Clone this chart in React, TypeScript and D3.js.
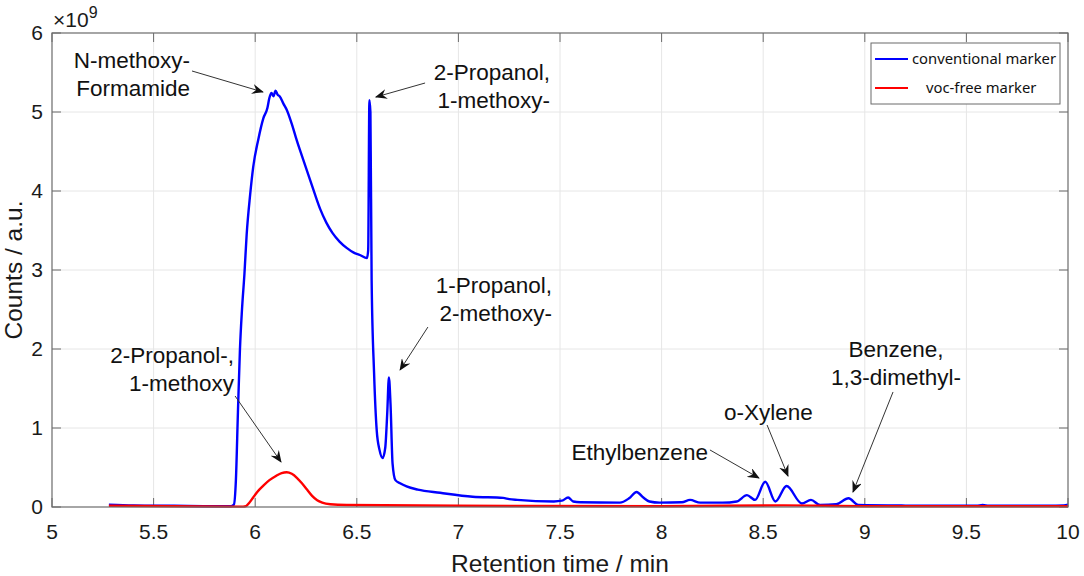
import React, { useRef, useEffect } from "react";
import * as d3 from "d3";

// retention time (min) and counts (x1e9)
const blueTime = [
  5.28, 5.4, 5.6, 5.8, 5.88, 5.895, 5.905, 5.915, 5.925, 5.935, 5.947, 5.958, 5.975, 5.99, 6.015,
  6.04, 6.06, 6.07, 6.08, 6.09, 6.1, 6.11, 6.12, 6.14, 6.155, 6.18, 6.2, 6.22, 6.245, 6.27, 6.295,
  6.32, 6.35, 6.38, 6.415, 6.45, 6.485, 6.515, 6.55, 6.556, 6.562, 6.567, 6.573, 6.585, 6.598,
  6.612, 6.627, 6.64, 6.65, 6.658, 6.666, 6.676, 6.69, 6.713, 6.745, 6.8, 6.91, 7.07, 7.22, 7.25,
  7.29, 7.47, 7.51, 7.54, 7.565, 7.6, 7.795, 7.84, 7.877, 7.91, 7.94, 7.99, 8.1, 8.14, 8.19, 8.3,
  8.37, 8.42, 8.46, 8.51, 8.56, 8.615, 8.69, 8.735, 8.78, 8.86, 8.92, 8.968, 9.2, 9.55, 9.58, 9.61,
  9.9, 9.98, 10,
];
const blueCounts = [
  0.03, 0.02, 0.015, 0.01, 0.01, 0.03, 0.34, 1.2, 2.0, 2.5, 2.95, 3.45, 3.95, 4.3, 4.65,
  4.92, 5.05, 5.18, 5.24, 5.2, 5.27, 5.22, 5.2, 5.1, 5.03, 4.85, 4.68, 4.52, 4.33, 4.14, 3.95,
  3.77, 3.6, 3.47, 3.36, 3.28, 3.22, 3.19, 3.15, 3.25, 5.15, 5.0, 2.87, 1.7, 0.97,
  0.72, 0.62, 0.75, 1.2, 1.64, 1.3, 0.55, 0.34, 0.3, 0.26, 0.22, 0.18, 0.13, 0.115, 0.1,
  0.09, 0.07, 0.08, 0.12, 0.07, 0.06, 0.055, 0.11, 0.19, 0.12, 0.07, 0.055, 0.06, 0.09, 0.055, 0.055,
  0.07, 0.15, 0.09, 0.32, 0.07, 0.265, 0.045, 0.09, 0.025, 0.035, 0.11, 0.025, 0.018, 0.015, 0.025, 0.015,
  0.015, 0.02, 0.03,
];

const redTime = [
  5.28, 5.6, 5.94, 5.955, 5.97, 5.99, 6.01, 6.04, 6.07, 6.1, 6.13, 6.155, 6.18, 6.205, 6.23,
  6.255, 6.28, 6.305, 6.33, 6.37, 6.45, 7.0, 8.0, 8.6, 9.0, 10,
];
const redCounts = [
  0.015, 0.01, 0.005, 0.012, 0.05, 0.12, 0.19, 0.27, 0.34, 0.39, 0.43, 0.44, 0.42, 0.37, 0.3,
  0.22, 0.14, 0.085, 0.055, 0.035, 0.025, 0.015, 0.01, 0.02, 0.01, 0.01,
];

const xTicks = [5, 5.5, 6, 6.5, 7, 7.5, 8, 8.5, 9, 9.5, 10];
const yTicks = [0, 1, 2, 3, 4, 5, 6];

const seriesNames = ["conventional marker", "voc-free marker"];
const seriesColors = ["#0000ff", "#ff0000"];

// compound labels: text lines, anchor point, arrow tail and head (data units)
const labelLines = [
  ["N-methoxy-", "Formamide"],
  ["2-Propanol,", "1-methoxy-"],
  ["1-Propanol,", "2-methoxy-"],
  ["2-Propanol-,", "1-methoxy"],
  ["Ethylbenzene"],
  ["o-Xylene"],
  ["Benzene,", "1,3-dimethyl-"],
];
const labelAnchor = ["end", "end", "end", "end", "end", "middle", "middle"];
const labelX = [5.679, 7.451, 7.461, 5.896, 8.228, 8.526, 9.154];
const labelY = [5.658, 5.506, 2.81, 1.924, 0.696, 1.203, 2.0];
const arrowTail = [
  [5.689, 5.519],
  [6.836, 5.367],
  [6.85, 2.278],
  [5.901, 1.405],
  [8.238, 0.722],
  [8.519, 1.038],
  [9.139, 1.456],
];
const arrowHead = [
  [6.038, 5.253],
  [6.594, 5.19],
  [6.713, 1.734],
  [6.127, 0.57],
  [8.479, 0.367],
  [8.622, 0.392],
  [8.942, 0.19],
];

const Chromatogram: React.FC<{ width?: number; height?: number }> = ({
  width = 1084,
  height = 576,
}) => {
  const svgRef = useRef<SVGSVGElement | null>(null);
  const margin = { top: 33, right: 16, bottom: 69, left: 52 };
  const font = "'Liberation Sans', Arial, Helvetica, sans-serif";

  useEffect(() => {
    const svg = d3.select(svgRef.current);
    svg.selectAll("*").remove();

    const x = d3.scaleLinear().domain([5, 10]).range([margin.left, width - margin.right]);
    const y = d3.scaleLinear().domain([0, 6]).range([height - margin.bottom, margin.top]);
    const x0 = margin.left;
    const x1 = width - margin.right;
    const y0 = height - margin.bottom;
    const y1 = margin.top;

    svg.append("rect").attr("width", width).attr("height", height).attr("fill", "#fff");

    // grid
    const grid = svg.append("g").attr("stroke", "#e6e6e6").attr("stroke-width", 1);
    grid
      .selectAll(".gx")
      .data(xTicks.slice(1, -1))
      .enter()
      .append("line")
      .attr("x1", (d) => x(d))
      .attr("x2", (d) => x(d))
      .attr("y1", y1)
      .attr("y2", y0);
    grid
      .selectAll(".gy")
      .data(yTicks.slice(1, -1))
      .enter()
      .append("line")
      .attr("x1", x0)
      .attr("x2", x1)
      .attr("y1", (d) => y(d))
      .attr("y2", (d) => y(d));

    // ticks pointing inward on all four sides
    const tickLen = 9;
    const ticks = svg.append("g").attr("stroke", "#6b6b6b").attr("stroke-width", 1);
    xTicks.forEach((t) => {
      ticks.append("line").attr("x1", x(t)).attr("x2", x(t)).attr("y1", y0).attr("y2", y0 - tickLen);
      ticks.append("line").attr("x1", x(t)).attr("x2", x(t)).attr("y1", y1).attr("y2", y1 + tickLen);
    });
    yTicks.forEach((t) => {
      ticks.append("line").attr("x1", x0).attr("x2", x0 + tickLen).attr("y1", y(t)).attr("y2", y(t));
      ticks.append("line").attr("x1", x1).attr("x2", x1 - tickLen).attr("y1", y(t)).attr("y2", y(t));
    });

    // tick labels
    svg
      .append("g")
      .selectAll("text")
      .data(xTicks)
      .enter()
      .append("text")
      .attr("x", (d) => x(d))
      .attr("y", y0 + 25)
      .attr("dy", "0.35em")
      .attr("text-anchor", "middle")
      .attr("font-family", font)
      .attr("font-size", 21)
      .attr("fill", "#1a1a1a")
      .text((d) => String(d));
    svg
      .append("g")
      .selectAll("text")
      .data(yTicks)
      .enter()
      .append("text")
      .attr("x", x0 - 9)
      .attr("y", (d) => y(d))
      .attr("dy", "0.35em")
      .attr("text-anchor", "end")
      .attr("font-family", font)
      .attr("font-size", 21)
      .attr("fill", "#1a1a1a")
      .text((d) => String(d));

    // exponent
    const expo = svg
      .append("text")
      .attr("x", x0 + 1)
      .attr("y", y1 - 6)
      .attr("font-family", font)
      .attr("font-size", 21)
      .attr("fill", "#1a1a1a");
    expo.append("tspan").text("\u00d710");
    expo.append("tspan").attr("dy", -9).attr("font-size", 16).text("9");

    // axis titles
    svg
      .append("text")
      .attr("x", (x0 + x1) / 2)
      .attr("y", y0 + 56)
      .attr("dy", "0.35em")
      .attr("text-anchor", "middle")
      .attr("font-family", font)
      .attr("font-size", 24.5)
      .attr("fill", "#1a1a1a")
      .text("Retention time / min");
    svg
      .append("text")
      .attr("transform", `translate(13,${(y0 + y1) / 2}) rotate(-90)`)
      .attr("dy", "0.35em")
      .attr("text-anchor", "middle")
      .attr("font-family", font)
      .attr("font-size", 24.5)
      .attr("fill", "#1a1a1a")
      .text("Counts / a.u.");

    // series
    const line = d3
      .line<[number, number]>()
      .x((d) => x(d[0]))
      .y((d) => y(d[1]))
      .curve(d3.curveMonotoneX);
    const series: [number, number][][] = [
      blueTime.map((t, i) => [t, blueCounts[i]]),
      redTime.map((t, i) => [t, redCounts[i]]),
    ];
    series.forEach((pts, i) => {
      svg
        .append("path")
        .datum(pts)
        .attr("d", line)
        .attr("fill", "none")
        .attr("stroke", seriesColors[i])
        .attr("stroke-width", 2.4)
        .attr("stroke-linejoin", "round");
    });

    // box
    svg
      .append("rect")
      .attr("x", x0)
      .attr("y", y1)
      .attr("width", x1 - x0)
      .attr("height", y0 - y1)
      .attr("fill", "none")
      .attr("stroke", "#6b6b6b")
      .attr("stroke-width", 1.2);

    // annotations
    const defs = svg.append("defs");
    defs
      .append("marker")
      .attr("id", "arrowhead")
      .attr("viewBox", "0 0 12 10")
      .attr("refX", 11)
      .attr("refY", 5)
      .attr("markerWidth", 12)
      .attr("markerHeight", 10)
      .attr("markerUnits", "userSpaceOnUse")
      .attr("orient", "auto")
      .append("path")
      .attr("d", "M0,0 L12,5 L0,10 L4,5 Z")
      .attr("fill", "#111");

    const notes = svg.append("g");
    labelLines.forEach((lines, i) => {
      notes
        .append("line")
        .attr("x1", x(arrowTail[i][0]))
        .attr("y1", y(arrowTail[i][1]))
        .attr("x2", x(arrowHead[i][0]))
        .attr("y2", y(arrowHead[i][1]))
        .attr("stroke", "#333")
        .attr("stroke-width", 1)
        .attr("marker-end", "url(#arrowhead)");
      lines.forEach((s, j) => {
        notes
          .append("text")
          .attr("x", x(labelX[i]))
          .attr("y", y(labelY[i]) + j * 28.5)
          .attr("dy", "0.35em")
          .attr("text-anchor", labelAnchor[i])
          .attr("font-family", font)
          .attr("font-size", 22.5)
          .attr("fill", "#111")
          .text(s);
      });
    });

    // legend
    const lg = svg.append("g").attr("transform", `translate(${x1 - 197},${y1 + 10})`);
    lg.append("rect")
      .attr("width", 189)
      .attr("height", 61)
      .attr("fill", "#fff")
      .attr("stroke", "#6b6b6b")
      .attr("stroke-width", 1);
    seriesNames.forEach((name, i) => {
      const ly = 16 + i * 29;
      lg.append("line")
        .attr("x1", 4)
        .attr("x2", 37)
        .attr("y1", ly)
        .attr("y2", ly)
        .attr("stroke", seriesColors[i])
        .attr("stroke-width", 2);
      lg.append("text")
        .attr("x", i === 0 ? 41 : 55)
        .attr("y", ly)
        .attr("dy", "0.35em")
        .attr("font-family", "'Noto Sans', 'Open Sans', sans-serif")
        .attr("font-size", 14.8)
        .attr("fill", "#111")
        .text(name);
    });
  }, [width, height]);

  return (
    <svg
      ref={svgRef}
      width={width}
      height={height}
      style={{ position: "absolute", left: 0, top: 0, display: "block" }}
    />
  );
};

export default function App() {
  return <Chromatogram />;
}
